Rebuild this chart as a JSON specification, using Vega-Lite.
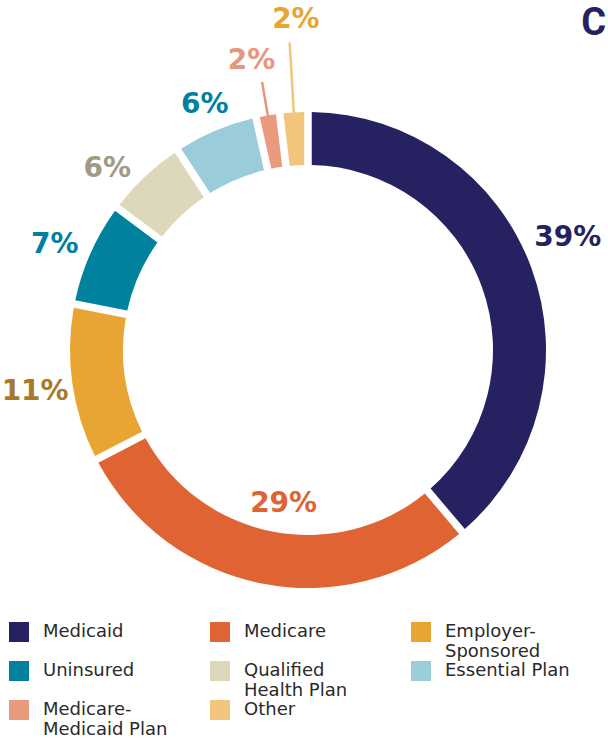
{
  "$schema": "https://vega.github.io/schema/vega-lite/v6.json",
  "autosize": {"type": "none"},
  "padding": {"left": 8, "top": 0, "right": 0, "bottom": 38},
  "width": 600,
  "height": 700,
  "background": "white",
  "config": {"view": {"stroke": null}},
  "title": {"text": "C", "anchor": "end", "frame": "group", "orient": "top", "offset": -73, "baseline": "alphabetic", "fontSize": 38, "font": "Roboto", "fontWeight": "bold", "color": "#262262", "dx": -2},
  "data": {
    "values": [
      {"category": "Medicaid", "pct": 38.8, "label": "39%", "rank": 1},
      {"category": "Medicare", "pct": 28.6, "label": "29%", "rank": 2},
      {"category": "Employer-Sponsored", "pct": 10.7, "label": "11%", "rank": 3},
      {"category": "Uninsured", "pct": 7.1, "label": "7%", "rank": 4},
      {"category": "Qualified Health Plan", "pct": 5.6, "label": "6%", "rank": 5},
      {"category": "Essential Plan", "pct": 5.7, "label": "6%", "rank": 6},
      {"category": "Medicare-Medicaid Plan", "pct": 1.6, "label": "2%", "rank": 7},
      {"category": "Other", "pct": 1.9, "label": "2%", "rank": 8}
    ]
  },
  "layer": [
    {
      "mark": {"type": "arc", "radius": 238, "radius2": 185, "padAngle": 0.025},
      "encoding": {
        "theta": {"field": "pct", "type": "quantitative", "stack": true},
        "order": {"field": "rank", "type": "quantitative"},
        "color": {
          "field": "category", "type": "nominal",
          "scale": {
            "domain": ["Medicaid", "Medicare", "Employer-Sponsored", "Uninsured", "Qualified Health Plan", "Essential Plan", "Medicare-Medicaid Plan", "Other"],
            "range": ["#262262", "#E06433", "#E8A533", "#00819E", "#DDD7BB", "#9ACCD9", "#EA9A7C", "#F1C57C"]
          },
          "legend": {
            "orient": "none", "legendX": 1, "legendY": 622, "direction": "horizontal", "columns": 3,
            "title": null, "padding": 0, "gridAlign": "all", "columnPadding": 42, "rowPadding": 0,
            "symbolType": "square", "symbolSize": 400, "symbolStrokeWidth": 0, "symbolOpacity": 1,
            "labelFont": "DejaVu Sans", "labelFontSize": 18, "labelColor": "#2a2a2a", "labelOffset": 14, "labelLimit": 300,
            "labelExpr": "datum.label == 'Employer-Sponsored' ? ['Employer-', 'Sponsored'] : datum.label == 'Qualified Health Plan' ? ['Qualified', 'Health Plan'] : datum.label == 'Medicare-Medicaid Plan' ? ['Medicare-', 'Medicaid Plan'] : [datum.label, '']"
          }
        }
      }
    },
    {
      "mark": {"type": "arc", "radius": 272, "radius2": 237, "padAngle": 1, "fillOpacity": 0, "stroke": "#E8967A", "strokeWidth": 2.5},
      "encoding": {
        "theta": {"field": "pct", "type": "quantitative", "stack": true},
        "order": {"field": "rank", "type": "quantitative"},
        "detail": {"field": "category", "type": "nominal"},
        "opacity": {"condition": {"test": "datum.category === 'Medicare-Medicaid Plan'", "value": 1}, "value": 0}
      }
    },
    {
      "mark": {"type": "arc", "radius": 308, "radius2": 237, "padAngle": 1, "fillOpacity": 0, "stroke": "#F1C57C", "strokeWidth": 2.5},
      "encoding": {
        "theta": {"field": "pct", "type": "quantitative", "stack": true},
        "order": {"field": "rank", "type": "quantitative"},
        "detail": {"field": "category", "type": "nominal"},
        "opacity": {"condition": {"test": "datum.category === 'Other'", "value": 1}, "value": 0}
      }
    },
    {
      "mark": {
        "type": "text", "font": "DejaVu Sans", "fontWeight": "bold", "fontSize": 28, "align": "center", "baseline": "middle",
        "radius": {"expr": "datum.category === 'Medicaid' ? 283 : datum.category === 'Medicare' ? 156 : datum.category === 'Employer-Sponsored' ? 276 : datum.category === 'Uninsured' ? 274 : datum.category === 'Qualified Health Plan' ? 270 : datum.category === 'Essential Plan' ? 266 : datum.category === 'Medicare-Medicaid Plan' ? 294 : 330"},
        "thetaOffset": {"expr": "datum.category === 'Medicaid' ? -0.056 : datum.category === 'Medicare' ? -0.038 : datum.category === 'Employer-Sponsored' ? -0.01 : datum.category === 'Uninsured' ? -0.026 : datum.category === 'Qualified Health Plan' ? -0.084 : datum.category === 'Essential Plan' ? 0 : datum.category === 'Medicare-Medicaid Plan' ? -0.024 : 0.023"}
      },
      "encoding": {
        "theta": {"field": "pct", "type": "quantitative", "stack": true},
        "order": {"field": "rank", "type": "quantitative"},
        "text": {"field": "label"},
        "fill": {
          "field": "category", "type": "nominal", "legend": null,
          "scale": {
            "domain": ["Medicaid", "Medicare", "Employer-Sponsored", "Uninsured", "Qualified Health Plan", "Essential Plan", "Medicare-Medicaid Plan", "Other"],
            "range": ["#262262", "#E06433", "#A8792B", "#00809F", "#A09A85", "#00809F", "#E8967A", "#E8A630"]
          }
        }
      }
    }
  ]
}
